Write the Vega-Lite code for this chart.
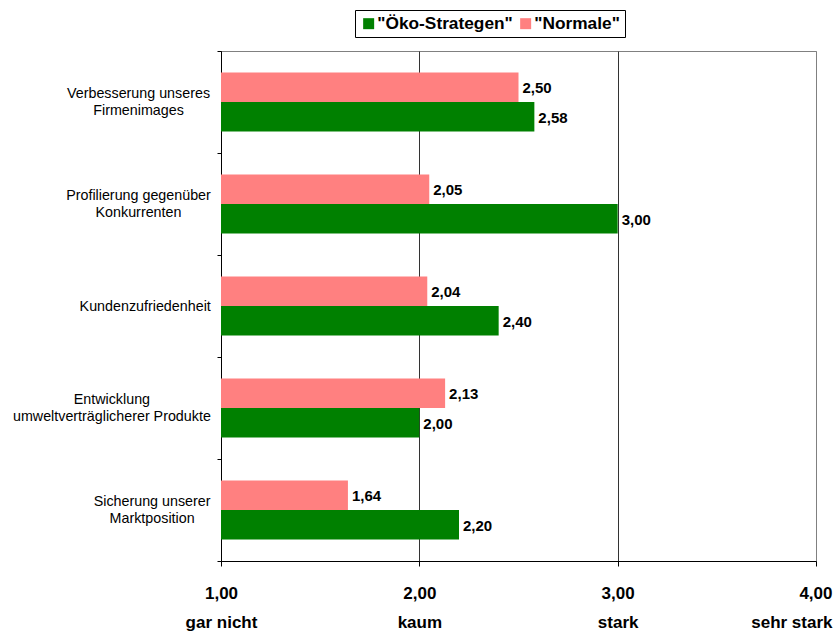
{
  "$schema": "https://vega.github.io/schema/vega-lite/v6.json",
  "width": 595,
  "height": 510,
  "autosize": {"type": "none"},
  "padding": {"left": 221, "top": 51, "right": 18, "bottom": 71},
  "background": "white",
  "config": {
    "locale": {
      "number": {"decimal": ",", "thousands": ".", "grouping": [3], "currency": ["", " €"]}
    },
    "font": "Liberation Sans",
    "view": {"stroke": "#808080", "strokeWidth": 1}
  },
  "data": {
    "values": [
      {"aspect": "Verbesserung unseres|Firmenimages", "group": "\"Normale\"", "score": 2.50},
      {"aspect": "Verbesserung unseres|Firmenimages", "group": "\"Öko-Strategen\"", "score": 2.58},
      {"aspect": "Profilierung gegenüber|Konkurrenten", "group": "\"Normale\"", "score": 2.05},
      {"aspect": "Profilierung gegenüber|Konkurrenten", "group": "\"Öko-Strategen\"", "score": 3.00},
      {"aspect": "Kundenzufriedenheit", "group": "\"Normale\"", "score": 2.04},
      {"aspect": "Kundenzufriedenheit", "group": "\"Öko-Strategen\"", "score": 2.40},
      {"aspect": "Entwicklung|umweltverträglicherer Produkte", "group": "\"Normale\"", "score": 2.13},
      {"aspect": "Entwicklung|umweltverträglicherer Produkte", "group": "\"Öko-Strategen\"", "score": 2.00},
      {"aspect": "Sicherung unserer|Marktposition", "group": "\"Normale\"", "score": 1.64},
      {"aspect": "Sicherung unserer|Marktposition", "group": "\"Öko-Strategen\"", "score": 2.20}
    ]
  },
  "encoding": {
    "y": {
      "field": "aspect",
      "type": "nominal",
      "sort": null,
      "scale": {"paddingInner": 0, "paddingOuter": 0},
      "axis": {
        "title": null,
        "labelExpr": "isValid(datum.value) ? split(datum.value, '|') : ''",
        "labelAlign": "center",
        "labelBaseline": "middle",
        "labelLineHeight": 17.5,
        "labelFontSize": 14.3,
        "labelColor": "black",
        "labelPadding": {
          "condition": [
            {"test": "isValid(datum.value) && indexof(datum.value, 'Kunden') == 0", "value": 72.3},
            {"test": "isValid(datum.value) && indexof(datum.value, 'Entwicklung') == 0", "value": 105.6},
            {"test": "isValid(datum.value) && indexof(datum.value, 'Sicherung') == 0", "value": 65.4}
          ],
          "value": 79
        },
        "labelOffset": {
          "condition": {"test": "isValid(datum.value) && indexof(datum.value, '|') >= 0", "value": -8.75},
          "value": 0
        },
        "labelLimit": 0,
        "tickSize": 4,
        "tickBand": "extent",
        "tickColor": "black",
        "domainColor": "black",
        "grid": false
      }
    },
    "yOffset": {
      "field": "group",
      "type": "nominal",
      "sort": ["\"Normale\"", "\"Öko-Strategen\""],
      "scale": {"paddingInner": 0, "paddingOuter": 0.729}
    }
  },
  "layer": [
    {
      "mark": {"type": "bar"},
      "encoding": {
        "x": {
          "field": "score",
          "type": "quantitative",
          "scale": {"domain": [1, 4], "zero": false, "nice": false},
          "axis": {
            "title": null,
            "values": [1, 2, 3, 4],
            "labelExpr": "[format(datum.value, '.2f'), datum.value == 1 ? 'gar nicht' : datum.value == 2 ? 'kaum' : datum.value == 3 ? 'stark' : 'sehr stark']",
            "labelFontSize": 17,
            "labelFontWeight": "bold",
            "labelColor": "black",
            "labelLineHeight": 29,
            "labelBaseline": "top",
            "labelPadding": 19,
            "labelAlign": {"condition": {"test": "datum.value == 4", "value": "right"}, "value": "center"},
            "labelOffset": {"condition": {"test": "datum.value == 4", "value": 16}, "value": 0},
            "labelFlush": false,
            "labelOverlap": false,
            "tickSize": 5,
            "tickColor": "black",
            "domainColor": "black",
            "grid": true,
            "gridColor": {"condition": {"test": "datum.value >= 4", "value": "#808080"}, "value": "#333333"},
            "gridWidth": 1
          }
        },
        "x2": {"datum": 1},
        "color": {
          "field": "group",
          "type": "nominal",
          "scale": {
            "domain": ["\"Öko-Strategen\"", "\"Normale\""],
            "range": ["#008000", "#FF8080"]
          },
          "legend": {
            "title": null,
            "orient": "none",
            "legendX": 134,
            "legendY": -41,
            "direction": "horizontal",
            "strokeColor": "black",
            "fillColor": "white",
            "padding": 5,
            "symbolType": "square",
            "symbolSize": 121,
            "symbolStrokeWidth": 0,
            "labelFontSize": 17.3,
            "labelFontWeight": "bold",
            "labelColor": "black",
            "labelOffset": 0,
            "columnPadding": 4,
            "labelLimit": 0
          }
        }
      }
    },
    {
      "mark": {"type": "text", "align": "left", "baseline": "middle", "dx": 4, "dy": 1, "fontSize": 15, "fontWeight": "bold", "color": "black"},
      "encoding": {
        "x": {"field": "score", "type": "quantitative"},
        "text": {"field": "score", "type": "quantitative", "format": ".2f"}
      }
    }
  ]
}
